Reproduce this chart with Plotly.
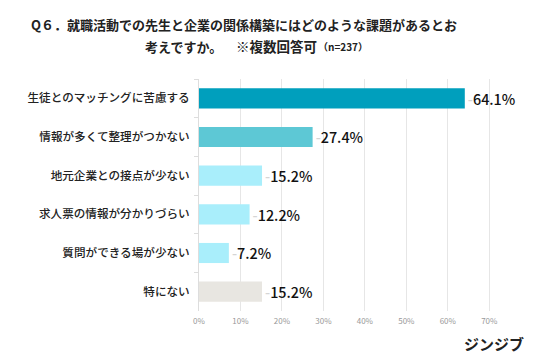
import plotly.graph_objects as go

categories = ["生徒とのマッチングに苦慮する", "情報が多くて整理がつかない", "地元企業との接点が少ない",
              "求人票の情報が分かりづらい", "質問ができる場が少ない", "特にない"]
values = [64.1, 27.4, 15.2, 12.2, 7.2, 15.2]
colors = ["#009FBD", "#5DC8D5", "#A9EEFB", "#A9EEFB", "#A9EEFB", "#E8E6E1"]
x_ticks = [0, 10, 20, 30, 40, 50, 60, 70]
x_ticklabels = [f"{t}%" for t in x_ticks]

FONT = "Noto Sans CJK JP"
W, H = 536, 357
ML, MR, MT, MB = 199, 26, 79, 46

fig = go.Figure(go.Bar(
    x=values, y=categories, orientation="h",
    marker=dict(color=colors, line=dict(width=0)),
    text=[f"<span style='color:#D5D5D5'>-</span>{v:.1f}%" for v in values],
    textposition="outside",
    textfont=dict(family=FONT, size=15, color="#111111", weight=500),
    cliponaxis=False,
))

plot_h = H - MT - MB
plot_w = W - ML - MR


def px_x(x):
    return (x - ML) / plot_w


def px_y(y):
    return (H - MB - y) / plot_h


def ann(text, x, y, size, xanchor="left", weight="bold"):
    return dict(text=text, x=px_x(x), y=px_y(y), xref="paper", yref="paper",
                showarrow=False, xanchor=xanchor, yanchor="middle",
                font=dict(family=FONT, size=size, color="#222222", weight=weight))


fig.update_layout(
    width=W, height=H,
    margin=dict(l=ML, r=MR, t=MT, b=MB, autoexpand=False),
    paper_bgcolor="white", plot_bgcolor="white",
    bargap=0.48,
    showlegend=False,
    font=dict(family=FONT),
    xaxis=dict(
        range=[0, 75], tickvals=x_ticks, ticktext=x_ticklabels,
        showgrid=True, gridcolor="#E6E6E6", gridwidth=1,
        zeroline=False, showline=False,
        tickfont=dict(family=FONT, size=8, color="#999999"),
        ticks="", ticklabelstandoff=4,
    ),
    yaxis=dict(
        categoryorder="array", categoryarray=categories, autorange="reversed",
        showline=True, linecolor="#DDDDDD", linewidth=1,
        tickson="boundaries", ticks="outside", ticklen=4, tickcolor="#DDDDDD",
        tickfont=dict(family=FONT, size=11.6, color="#222222", weight=500),
        ticklabelstandoff=6,
        showgrid=False,
    ),
    annotations=[
        ann("Q６．就職活動での先生と企業の関係構築にはどのような課題があるとお", 244, 25, 13, "center"),
        ann("考えですか。", 143, 46, 13),
        ann("※複数回答可", 234, 46, 13.5),
        ann("（n=237）", 316, 46.5, 10),
        ann("ジンジブ", 526, 343, 15, "right"),
    ],
)

fig.write_html("out.html", config={"displayModeBar": False},
               post_script="document.body.style.margin='0';document.body.style.overflow='hidden';")
